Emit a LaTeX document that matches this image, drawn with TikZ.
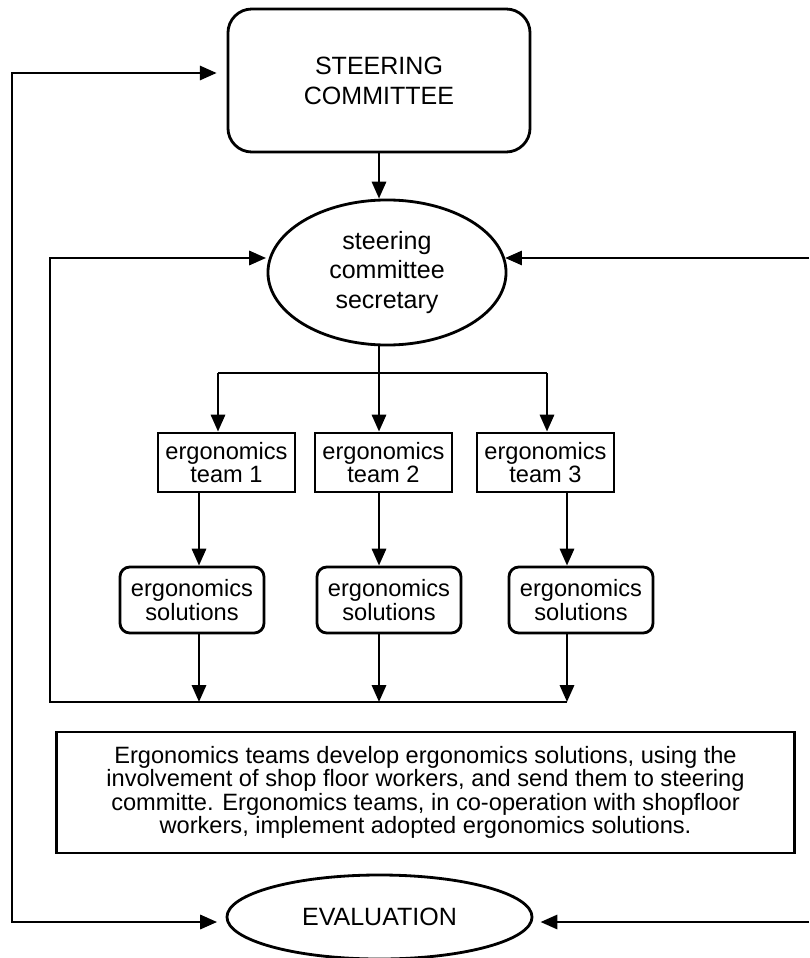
\documentclass[tikz,border=0pt]{standalone}
\usepackage{fontspec}
\setmainfont{Liberation Sans}
\usetikzlibrary{arrows.meta,shapes.geometric}

\begin{document}
\begin{tikzpicture}[x=0.025cm,y=-0.025cm,line width=2pt,
      bigtext/.style={font=\fontsize{17.8}{21.3}\selectfont},
      smalltext/.style={font=\fontsize{16.8}{16.6}\selectfont},
      board/.style={draw,rounded corners=17pt,align=center,inner sep=0pt,
                    minimum width=7.55cm,minimum height=3.575cm,bigtext},
      oval/.style={draw,ellipse,align=center,inner sep=0pt,bigtext},
      team/.style={draw,align=center,inner sep=0pt,minimum width=3.425cm,
                   minimum height=1.475cm,smalltext},
      solution/.style={draw,rounded corners=7pt,align=center,inner sep=0pt,
                       minimum width=3.6cm,minimum height=1.65cm,smalltext},
      flow/.style={-{Triangle[length=12pt,width=10pt]}}]
  \useasboundingbox (0,0) rectangle (809,958);

  % Steering committee on top, secretary below it.
  \node[board] (steering) at (379,80.5) {STEERING\\COMMITTEE};
  \node[oval,minimum width=5.95cm,minimum height=3.625cm] (secretary)
    at (387,272.5) {steering\\committee\\secretary};
  \draw[flow] (steering.south) -- (steering.south |- secretary.north);

  % Three ergonomics teams and their solutions.
  \foreach \i/\x in {1/226.5,2/383.5,3/545.5}
    \node[team] (team\i) at (\x,462.5) {ergonomics\\team \i};
  \foreach \i/\x in {1/192,2/389,3/581}
    \node[solution] (sol\i) at (\x,600) {ergonomics\\solutions};

  \foreach \i/\x in {1/218,2/379,3/547}{%
    \coordinate (in\i) at (\x,373);
    \draw[flow] (in\i) -- (in\i |- team\i.north);
  }
  \draw (in1) -- (in3);
  \draw (in2 |- secretary.south) -- (in2);

  \foreach \i/\x in {1/199,2/379,3/567}{%
    \coordinate (out\i) at (\x,702);
    \draw[flow] (out\i |- team\i.south) -- (out\i |- sol\i.north);
    \draw[flow] (out\i |- sol\i.south) -- (out\i);
  }

  % Inner loop back to the secretary.
  \coordinate (loopbl) at (50,702);
  \coordinate (looptl) at (50,258);
  \draw[flow,shorten >=2pt] (out3) -- (loopbl) -- (looptl)
    -- (looptl -| secretary.173);
  \coordinate (rightin) at (809,258);
  \draw[flow] (rightin) -- (rightin -| secretary.7);

  \node[draw,align=center,inner sep=0pt,minimum width=18.425cm,
        minimum height=3.025cm,smalltext] (summary) at (425.5,792.5)
    {Ergonomics teams develop ergonomics solutions, using the\\
     involvement of shop floor workers, and send them to steering\\
     committe. Ergonomics teams, in co-operation with shopfloor\\
     workers, implement adopted ergonomics solutions.};

  \node[oval,minimum width=7.625cm,minimum height=2.1cm] (evaluation)
    at (379.5,917) {EVALUATION};

  % Outer loop between evaluation and the steering committee.
  \coordinate (outertl) at (12,73);
  \coordinate (outerbl) at (12,922);
  \draw[{Triangle[length=12pt,width=10pt]}-{Triangle[length=12pt,width=10pt]},
        shorten <=7pt,shorten >=6pt]
    (outertl -| steering.west) -- (outertl) -- (outerbl)
    -- (outerbl -| evaluation.west);
  \coordinate (rightbot) at (809,922);
  \draw[flow,shorten >=5pt] (rightbot) -- (rightbot -| evaluation.east);
\end{tikzpicture}
\end{document}
